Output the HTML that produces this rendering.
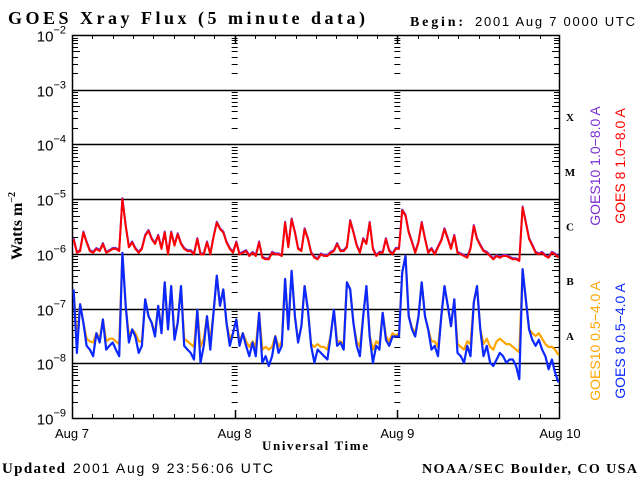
<!DOCTYPE html>
<html><head><meta charset="utf-8"><style>
html,body{margin:0;padding:0;background:#fff;}
svg{display:block;}
.sans{font-family:"Liberation Sans",sans-serif;}
.serif{font-family:"Liberation Serif",serif;font-weight:bold;}
</style></head><body>
<svg id="chart" width="640" height="480" viewBox="0 0 640 480" xmlns="http://www.w3.org/2000/svg">
<text class="serif" x="8" y="24" font-size="18" textLength="357" lengthAdjust="spacing">GOES Xray Flux (5 minute data)</text>
<text class="serif" x="410" y="26" font-size="14" textLength="53" lengthAdjust="spacing">Begin:</text>
<text class="sans" x="475" y="26" font-size="13" textLength="160" lengthAdjust="spacing">2001 Aug 7 0000 UTC</text>
<g id="axes"></g>
<g id="series"></g>
<g id="labels"></g>
<text class="serif" font-size="16" transform="translate(22,226) rotate(-90)" text-anchor="middle">Watts m<tspan font-size="10" dy="-7">−2</tspan></text>
<text class="serif" x="262" y="450" font-size="13" textLength="106" lengthAdjust="spacing">Universal Time</text>
<text class="serif" x="2" y="473" font-size="15" textLength="63" lengthAdjust="spacing">Updated</text>
<text class="sans" x="73" y="473" font-size="14" textLength="200" lengthAdjust="spacing">2001 Aug  9 23:56:06 UTC</text>
<text class="serif" x="422" y="473" font-size="14" textLength="215" lengthAdjust="spacing">NOAA/SEC Boulder, CO USA</text>
<text class="sans" font-size="14" fill="#7a2fd0" transform="translate(600,166) rotate(-90)" text-anchor="middle">GOES10 1.0−8.0 A</text>
<text class="sans" font-size="14" fill="#ff0000" transform="translate(625,166) rotate(-90)" text-anchor="middle">GOES 8 1.0−8.0 A</text>
<text class="sans" font-size="14" fill="#ffa500" transform="translate(600,341) rotate(-90)" text-anchor="middle">GOES10 0.5−4.0 A</text>
<text class="sans" font-size="14" fill="#0a28ff" transform="translate(625,341) rotate(-90)" text-anchor="middle">GOES 8 0.5−4.0 A</text>
</svg>
<script>
const yTickExps = [-2,-3,-4,-5,-6,-7,-8,-9];
const dayLabels = ["Aug 7","Aug 8","Aug 9","Aug 10"];
const classLetters = ["X","M","C","B","A"];
const classExps = [-3.5,-4.5,-5.5,-6.5,-7.5];
const goes8Long = [-5.73,-5.98,-5.95,-5.61,-5.79,-5.95,-5.98,-5.91,-5.95,-5.82,-5.98,-5.95,-5.91,-5.91,-5.95,-5.00,-5.49,-5.88,-5.79,-5.91,-5.98,-5.91,-5.67,-5.58,-5.73,-5.82,-5.67,-5.91,-5.61,-6.01,-5.61,-5.85,-5.64,-5.82,-5.91,-5.95,-5.95,-6.01,-5.73,-6.01,-6.01,-5.79,-6.01,-5.70,-5.43,-5.55,-5.61,-5.79,-5.91,-5.98,
-5.79,-6.01,-5.98,-5.95,-6.04,-5.98,-6.04,-5.79,-6.07,-6.10,-6.10,-5.98,-6.01,-6.01,-6.04,-5.43,-5.88,-5.37,-5.61,-5.91,-5.95,-5.55,-5.73,-5.98,-6.07,-6.10,-6.01,-6.04,-6.04,-5.98,-5.95,-5.82,-5.95,-5.95,-5.88,-5.40,-5.61,-5.85,-5.98,-5.73,-5.82,-5.43,-5.91,-6.04,-5.98,-5.98,-5.73,-5.95,-6.01,-5.91,
-5.91,-5.21,-5.30,-5.61,-5.79,-5.98,-5.79,-5.43,-5.73,-5.98,-5.91,-6.01,-5.88,-5.76,-5.55,-5.73,-5.91,-5.67,-5.98,-6.01,-6.04,-6.07,-5.91,-5.49,-5.73,-5.85,-5.95,-5.98,-6.04,-6.10,-6.04,-6.07,-6.04,-6.04,-6.07,-6.10,-6.10,-6.13,-5.15,-5.43,-5.73,-5.85,-5.98,-6.01,-5.98,-6.04,-6.07,-5.98,-6.01,-6.07];
const goes8Short = [-6.65,-7.81,-6.92,-7.26,-7.68,-7.75,-7.87,-7.45,-7.62,-7.20,-7.75,-7.68,-7.62,-7.75,-7.87,-5.98,-6.95,-7.62,-7.38,-7.51,-7.81,-7.68,-6.83,-7.14,-7.26,-7.51,-6.95,-7.45,-6.52,-7.38,-6.59,-7.57,-7.26,-6.59,-7.68,-7.75,-7.81,-7.93,-7.02,-7.99,-7.68,-7.14,-7.75,-7.08,-6.40,-6.95,-6.65,-7.26,-7.68,-7.45,
-7.20,-7.68,-7.45,-7.68,-7.87,-7.62,-7.87,-7.08,-7.99,-7.87,-8.05,-7.87,-7.51,-7.81,-7.68,-6.46,-7.38,-6.31,-7.14,-7.62,-7.32,-6.59,-7.02,-7.68,-7.99,-7.75,-7.81,-7.87,-7.93,-7.51,-7.02,-7.68,-7.62,-7.75,-6.52,-6.65,-7.26,-7.68,-7.87,-7.14,-6.59,-7.51,-7.99,-7.68,-7.75,-7.08,-7.57,-7.68,-7.51,-7.51,
-7.51,-6.34,-6.04,-7.14,-7.38,-7.51,-7.14,-6.52,-7.14,-7.38,-7.75,-7.68,-7.87,-7.14,-6.59,-6.95,-7.32,-6.83,-7.81,-7.87,-7.99,-7.68,-7.87,-6.89,-6.59,-7.38,-7.87,-7.68,-7.99,-8.05,-7.93,-7.81,-7.87,-7.99,-7.93,-7.93,-8.05,-8.29,-6.28,-6.83,-7.38,-7.57,-7.68,-7.57,-7.75,-7.87,-8.11,-7.93,-8.17,-8.35];
const goes10Short = [-6.65,-7.6,-6.92,-7.26,-7.55,-7.6,-7.62,-7.45,-7.55,-7.20,-7.6,-7.55,-7.55,-7.6,-7.65,-5.98,-6.95,-7.5,-7.38,-7.45,-7.6,-7.6,-6.83,-7.14,-7.26,-7.45,-6.95,-7.4,-6.52,-7.38,-6.59,-7.5,-7.26,-6.59,-7.55,-7.6,-7.65,-7.7,-7.02,-7.7,-7.55,-7.14,-7.6,-7.08,-6.40,-6.95,-6.65,-7.26,-7.55,-7.45,
-7.20,-7.6,-7.45,-7.6,-7.7,-7.6,-7.7,-7.08,-7.75,-7.7,-7.75,-7.7,-7.5,-7.7,-7.6,-6.46,-7.38,-6.31,-7.14,-7.6,-7.32,-6.59,-7.02,-7.65,-7.7,-7.65,-7.7,-7.7,-7.75,-7.5,-7.02,-7.6,-7.6,-7.65,-6.52,-6.65,-7.26,-7.6,-7.7,-7.14,-6.59,-7.5,-7.75,-7.6,-7.65,-7.08,-7.5,-7.6,-7.45,-7.5,
-7.45,-6.34,-6.04,-7.14,-7.35,-7.45,-7.14,-6.52,-7.14,-7.38,-7.6,-7.6,-7.7,-7.14,-6.59,-6.95,-7.32,-6.83,-7.65,-7.7,-7.75,-7.6,-7.65,-6.89,-6.59,-7.38,-7.65,-7.55,-7.7,-7.75,-7.6,-7.55,-7.6,-7.65,-7.65,-7.7,-7.75,-7.8,-6.28,-6.83,-7.38,-7.45,-7.5,-7.45,-7.55,-7.65,-7.7,-7.7,-7.75,-7.85];

const NS="http://www.w3.org/2000/svg";
const L=72,R=560,T=35,B=418;
const yTop=-2,yBot=-9;
function ys(e){return T+(yTop-e)/(yTop-yBot)*(B-T);}
function xs(i,n){return L+(i+0.5)*(R-L)/n;}
function xd(d){return L+d*(R-L)/3;}
function mk(tag,attrs,parent){const e=document.createElementNS(NS,tag);for(const k in attrs)e.setAttribute(k,attrs[k]);parent.appendChild(e);return e;}
const axes=document.getElementById('axes'),ser=document.getElementById('series'),lab=document.getElementById('labels');

yTickExps.forEach(e=>{
  const y=Math.round(ys(e))+0.5;
  if(e<yTop&&e>yBot){
    const ln=mk('line',{x1:L,x2:R,y1:y,y2:y,stroke:'#000','stroke-width':1.5},axes);
    
    
  }
  const t=mk('text',{x:66,y:y+6,'text-anchor':'end','font-size':15,class:'sans'},lab);
  
  
  t.innerHTML='10<tspan font-size="11" dy="-8">−'+(-e)+'</tspan>';
});
const xsTick=[[L,1],[xd(1),0],[xd(2),0],[R,-1]];
for(let e=yBot;e<yTop;e++){
  for(let m=2;m<=9;m++){
    const y=Math.round(ys(e+Math.log10(m)))+0.5;
    xsTick.forEach(([x,dir])=>{
      const len=(m===5)?8:6;
      let x1,x2;
      if(dir===1){x1=x;x2=x+len;}else if(dir===-1){x1=x-len;x2=x;}else{x1=x-3;x2=x+3;}
      const tk=mk('line',{x1:x1,x2:x2,y1:y,y2:y,stroke:'#000','stroke-width':1},axes);
      
      
    });
  }
}
for(let h=3;h<72;h+=3){
  if(h%24===0)continue;
  const x=Math.round(L+h/72*(R-L))+0.5;
  [[B,B-4],[T,T+4]].forEach(([a,b])=>{
    const tk=mk('line',{x1:x,x2:x,y1:a,y2:b,stroke:'#000','stroke-width':1},axes);
    
    
  });
}
[1,2].forEach(d=>{const x=Math.round(xd(d))+0.5;
  [[B,B-8],[T,T+8]].forEach(([a,b])=>{const tk=mk('line',{x1:x,x2:x,y1:a,y2:b,stroke:'#000','stroke-width':1.5},axes);
  
  });});
const fr=mk('rect',{x:L+0.5,y:T+0.5,width:R-L-1,height:B-T,fill:'none',stroke:'#000','stroke-width':1.5},axes);


dayLabels.forEach((s,d)=>{const t=mk('text',{x:xd(d),y:438,'text-anchor':'middle','font-size':13,class:'sans'},lab);
  
  
  t.textContent=s;});
classLetters.forEach((c,i)=>{const t=mk('text',{x:570,y:ys(classExps[i])+4,'text-anchor':'middle','font-size':11,class:'serif'},lab);
  
  
  t.textContent=c;});
function pts(arr,dy){return arr.map((v,i)=>xs(i,arr.length).toFixed(1)+','+(ys(v)+(dy||0)).toFixed(1)).join(' ');}
const p1=mk('polyline',{points:pts(goes10Short,0),fill:'none',stroke:'#ffa500','stroke-width':2.2,'stroke-linejoin':'round'},ser);


const p2=mk('polyline',{points:pts(goes8Short,0),fill:'none',stroke:'#0a28ff','stroke-width':2.2,'stroke-linejoin':'round'},ser);


const p3=mk('polyline',{points:pts(goes8Long,-1),fill:'none',stroke:'#7a2fd0','stroke-width':2,'stroke-linejoin':'round'},ser);


const p4=mk('polyline',{points:pts(goes8Long,0),fill:'none',stroke:'#ff0000','stroke-width':2,'stroke-linejoin':'round'},ser);


</script>
</body></html>
